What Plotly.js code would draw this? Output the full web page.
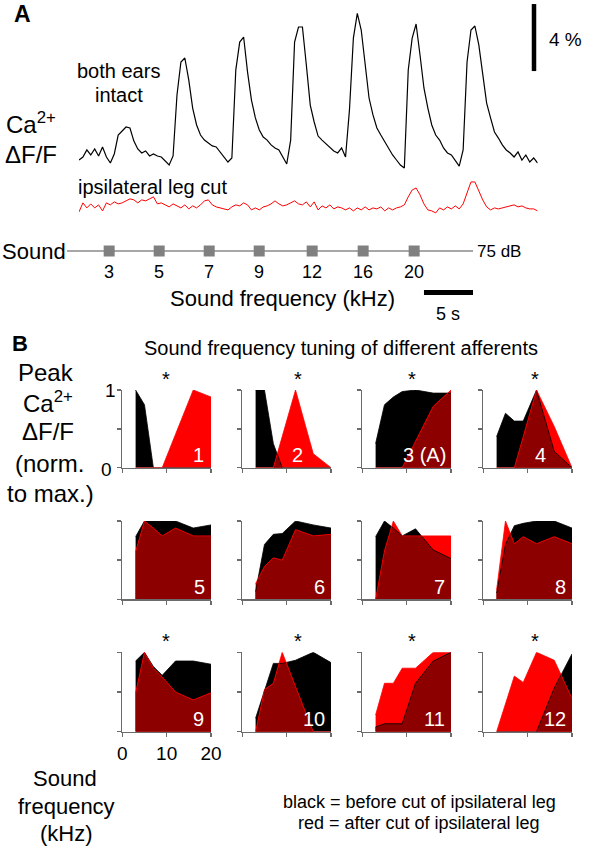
<!DOCTYPE html>
<html>
<head>
<meta charset="utf-8">
<script src="https://cdn.plot.ly/plotly-3.0.1.min.js"></script>
<style>html,body{margin:0;padding:0;background:#fff;}#chart{width:591px;height:853px;}</style>
</head>
<body>
<div id="chart"></div>
<script>
// ---------------- Panel A data ----------------
const sampleInterval = 0.4; // s between samples
const bothEarsIntact = [0.0,0.18,0.6,0.3,0.66,0.24,0.78,0.18,-0.18,0.36,
  1.49,1.73,1.97,1.91,1.13,0.66,0.42,0.54,0.24,0.36,
  0.24,0.18,-0.06,-0.3,0.24,3.88,5.85,6.09,4.78,3.1,
  2.09,1.49,1.19,1.01,0.84,0.78,0.48,0.24,-0.12,0.12,
  5.37,7.04,7.34,5.25,3.58,2.51,1.79,1.37,1.19,0.9,
  0.72,0.6,0.18,-0.24,1.19,7.04,7.94,7.94,5.67,3.28,
  2.27,1.43,1.19,0.96,0.72,0.54,0.42,0.72,0.18,2.99,
  7.28,8.75,7.76,5.55,3.7,2.69,1.91,1.49,1.07,0.72,
  0.3,0.0,-0.3,-0.48,5.37,7.28,8.12,6.27,4.3,3.1,
  2.09,1.49,1.19,0.72,0.42,0.3,0.0,-0.36,0.6,5.85,
  7.76,8.0,6.87,5.07,3.4,2.51,1.67,1.31,0.9,0.6,
  0.42,0.18,0.48,0.0,0.3,-0.12,0.12,-0.18];
const ipsilateralLegCut = [-0.3,0.24,-0.06,0.18,-0.06,0.12,-0.24,0.24,0.12,0.3,
  0.18,0.24,0.36,0.48,0.42,0.24,0.42,0.36,0.48,0.6,
  0.18,0.24,0.12,0.0,0.18,0.06,-0.06,0.12,-0.12,0.06,
  -0.06,0.12,0.36,0.42,0.12,0.0,-0.06,-0.12,-0.18,0.0,
  0.12,0.06,0.24,0.12,-0.18,-0.06,-0.18,0.0,0.06,0.18,
  0.36,0.18,0.06,0.12,0.24,0.36,0.18,0.12,0.3,0.0,
  0.3,-0.18,0.06,-0.06,0.12,-0.12,0.0,-0.06,-0.18,-0.06,
  -0.24,-0.06,-0.18,0.0,-0.18,-0.06,-0.12,0.0,-0.24,-0.06,
  -0.18,-0.06,0.0,0.12,0.6,1.01,1.13,0.72,0.18,-0.18,
  -0.24,-0.36,-0.06,-0.18,0.0,-0.12,0.06,-0.12,0.18,0.9,
  1.49,1.49,0.9,0.42,0.0,-0.18,-0.06,-0.12,-0.06,0.0,
  0.06,0.12,0.0,0.06,-0.06,-0.12,-0.12,-0.24];
const stimulusTimes = [4.3, 9.4, 14.5, 19.6, 25.0, 30.2, 35.4]; // s
const stimulusFreqLabels = ['3','5','7','9','12','16','20'];

// ---------------- Panel B data ----------------
const freqs = [3,5,7,9,12,16,20]; // kHz
const before1 = [1.0,0.81,0,0,0,0,0];        const after1 = [0,0,0,0,0.43,1.0,0.91];
const before2 = [1.0,1.0,0.31,0,0,0,0];      const after2 = [0,0,0,0.4,1.0,0.18,0];
const before3 = [0.31,0.81,0.91,0.98,1.0,0.96,0.96]; const after3 = [0,0,0,0,0.34,0.79,1.0];
const before4 = [0.4,0.7,0.6,0.6,1.0,0.21,0];  const after4 = [0,0,0,0.4,1.0,0.53,0];
const before5 = [0.8,1.0,1.0,1.0,1.0,0.91,0.95]; const after5 = [0.61,1.0,0.91,0.81,0.91,0.81,0.81];
const before6 = [0.1,0.7,0.83,0.84,1.0,0.95,0.91]; const after6 = [0.2,0.42,0.53,0.5,0.89,0.81,0.83];
const before7 = [0.8,1.0,0.91,0.81,0.9,0.63,0.52]; const after7 = [0,0.62,1.0,0.81,0.81,0.81,0.81];
const before8 = [0.08,0.7,0.94,0.97,1.0,1.0,0.91]; const after8 = [0.12,1.0,0.71,0.8,0.71,0.8,0.71];
const before9 = [0.89,1.0,0.82,0.71,0.89,0.89,0.85]; const after9 = [0.49,1.0,0.8,0.69,0.5,0.4,0.49];
const before10 = [0.17,0.53,0.86,0.86,0.9,1.0,0.87]; const after10 = [0,0.53,0.61,1.0,0.57,0,0];
const before11 = [0.06,0.1,0.1,0.1,0.61,0.89,1.0]; const after11 = [0.21,0.61,0.61,0.8,0.8,1.0,1.0];
const before12 = [0,0,0,0,0,0.55,0.98];       const after12 = [0,0.35,0.7,0.62,1.0,0.9,0.42];
const beforeList = [before1,before2,before3,before4,before5,before6,before7,before8,before9,before10,before11,before12];
const afterList = [after1,after2,after3,after4,after5,after6,after7,after8,after9,after10,after11,after12];
const afferentLabels = ['1','2','3 (A)','4','5','6','7','8','9','10','11','12'];
const significant = [true,true,true,true,false,false,false,false,true,true,true,true];

// ---------------- layout helpers ----------------
const W = 591, H = 853;
const FONT = 'Liberation Sans, Arial, sans-serif';
const px = x => x / W;
const py = y => 1 - y / H;
const AX = '#6b6b6b';

const traces = [];
const layout = {
  width: W, height: H, margin: {l:0,r:0,t:0,b:0,pad:0},
  paper_bgcolor: '#fff', plot_bgcolor: 'rgba(0,0,0,0)',
  showlegend: false, font: {family: FONT, color: '#000'},
  annotations: [], shapes: []
};

function ann(text, x, y, size, o) {
  layout.annotations.push(Object.assign({
    text: text, x: px(x), y: py(y), xref: 'paper', yref: 'paper',
    showarrow: false, xanchor: 'center', yanchor: 'middle',
    font: {family: FONT, size: size, color: '#000'}
  }, o || {}));
}

// ---------------- Panel A ----------------
const tTimes = bothEarsIntact.map((_, i) => i * sampleInterval);
const redOffset = -2.8;
layout.xaxis13 = {domain:[px(79), px(537.6)], range:[0, 46.8], anchor:'y13', visible:false, fixedrange:true};
layout.yaxis13 = {domain:[py(230), py(0)], range:[-4.179, 9.552], anchor:'x13', visible:false, fixedrange:true};
traces.push({x: tTimes, y: bothEarsIntact, xaxis:'x13', yaxis:'y13', mode:'lines',
  line:{color:'#000', width:1.2}, hoverinfo:'skip'});
traces.push({x: tTimes, y: ipsilateralLegCut.map(v => v + redOffset), xaxis:'x13', yaxis:'y13', mode:'lines',
  line:{color:'#ff0000', width:1}, hoverinfo:'skip'});
// 4 % scale bar
layout.shapes.push({type:'line', xref:'paper', yref:'y13', x0:px(534), x1:px(534), y0:5.31, y1:9.31,
  line:{color:'#000', width:4.5}});

// sound timeline
layout.xaxis14 = {domain:[px(67), px(473)], range:[0, 41.4], anchor:'y14', visible:false, fixedrange:true};
layout.yaxis14 = {domain:[py(261), py(241)], range:[-1, 1], anchor:'x14', visible:false, fixedrange:true};
traces.push({x:[0, 41.4], y:[0,0], xaxis:'x14', yaxis:'y14', mode:'lines', line:{color:'#8a8a8a', width:1.5}, hoverinfo:'skip'});
traces.push({x: stimulusTimes, y: stimulusTimes.map(() => 0), xaxis:'x14', yaxis:'y14', mode:'markers',
  marker:{symbol:'square', size:11, color:'#808080'}, hoverinfo:'skip'});
stimulusTimes.forEach((t, i) => {
  layout.annotations.push({text: stimulusFreqLabels[i], x: t, y: py(272), xref:'x14', yref:'paper',
    showarrow:false, xanchor:'center', yanchor:'middle', font:{family:FONT, size:18, color:'#000'}});
});
// 5 s bar
layout.shapes.push({type:'line', xref:'x14', yref:'paper', x0:36.4, x1:41.4, y0:py(292.5), y1:py(292.5),
  line:{color:'#000', width:5}});

ann('<b>A</b>', 22, 14, 23);
ann('both ears', 118, 71, 20);
ann('intact', 119, 95, 20);
ann('Ca<sup>2+</sup>', 31, 123, 24);
ann('ΔF/F', 31, 154, 24);
ann('ipsilateral leg cut', 76, 187, 20, {xanchor:'left'});
ann('4 %', 547, 39, 19, {xanchor:'left'});
ann('Sound', 0, 251, 22, {xanchor:'left'});
ann('75 dB', 475, 251, 17, {xanchor:'left'});
ann('Sound frequency (kHz)', 282, 299, 22);
ann('5 s', 448, 314, 18);

// ---------------- Panel B ----------------
const colX = [122.3, 242.3, 362.3, 483.3];
const colW = 88.7;
const rowTop = [390, 521, 652.3];
const rowBot = [467.7, 599.3, 731.7];
const starPx = [166, 297.7, 412, 535];
// label placement (x in kHz, anchor) for the afferent numbers
const labelX = [18.8, 12.5, 19.3, 13, 19, 19, 19, 19, 18.8, 19.1, 19.1, 19.1];
const labelAnchor = ['right','center','right','center','right','right','right','right','right','right','right','right'];

function minCurve(xs, a, b) {
  const mx = [], my = [];
  for (let i = 0; i < xs.length; i++) {
    if (i > 0) {
      const d0 = a[i-1] - b[i-1], d1 = a[i] - b[i];
      if (d0 * d1 < 0) {
        const f = d0 / (d0 - d1);
        mx.push(xs[i-1] + f * (xs[i] - xs[i-1]));
        my.push(a[i-1] + f * (a[i] - a[i-1]));
      }
    }
    mx.push(xs[i]); my.push(Math.min(a[i], b[i]));
  }
  return {mx, my};
}

for (let k = 1; k <= 12; k++) {
  const col = (k - 1) % 4, row = Math.floor((k - 1) / 4);
  const xa = 'x' + k, ya = 'y' + k;
  const xname = k === 1 ? 'xaxis' : 'xaxis' + k;
  const yname = k === 1 ? 'yaxis' : 'yaxis' + k;
  layout[xname] = {domain:[px(colX[col]), px(colX[col] + colW)], range:[0,20], anchor: ya,
    showline:true, linecolor:AX, linewidth:1.5, ticks:'outside', ticklen:4, tickwidth:1.5, tickcolor:AX,
    tickvals:[0,10,20], showticklabels: k === 9, tickfont:{family:FONT, size:19, color:'#000'},
    showgrid:false, zeroline:false, fixedrange:true, layer:'above traces'};
  layout[yname] = {domain:[py(rowBot[row]), py(rowTop[row])], range:[0,1], anchor: xa,
    showline:true, linecolor:AX, linewidth:1.5, ticks:'outside', ticklen:4, tickwidth:1.5, tickcolor:AX,
    tickvals:[0,0.5,1], showticklabels:false,
    showgrid:false, zeroline:false, fixedrange:true, layer:'above traces'};
  const b = beforeList[k-1], a = afterList[k-1];
  const m = minCurve(freqs, b, a);
  traces.push({x:freqs, y:b, xaxis:xa, yaxis:ya, mode:'lines', fill:'tozeroy', fillcolor:'#000',
    line:{width:0, color:'#000'}, hoverinfo:'skip'});
  traces.push({x:freqs, y:a, xaxis:xa, yaxis:ya, mode:'lines', fill:'tozeroy', fillcolor:'#ff0000',
    line:{width:0, color:'#ff0000'}, hoverinfo:'skip'});
  traces.push({x:m.mx, y:m.my, xaxis:xa, yaxis:ya, mode:'lines', fill:'tozeroy', fillcolor:'#8c0000',
    line:{width:0, color:'#8c0000'}, hoverinfo:'skip'});
  traces.push({x:freqs, y:b, xaxis:xa, yaxis:ya, mode:'lines', line:{width:0.8, color:'#000'}, hoverinfo:'skip'});
  traces.push({x:freqs, y:a, xaxis:xa, yaxis:ya, mode:'lines', line:{width:0.8, color:'#ff0000'}, hoverinfo:'skip'});
  layout.annotations.push({text: afferentLabels[k-1], x: labelX[k-1], y: 0.16, xref: xa, yref: ya,
    showarrow:false, xanchor: labelAnchor[k-1], yanchor:'middle', font:{family:FONT, size:20, color:'#fff'}});
  if (significant[k-1]) {
    ann('*', starPx[col], rowTop[row] - 11, 20);
  }
}
// y tick labels of the first panel
layout.annotations.push({text:'1', x:0, y:1, xref:'x', yref:'y', xshift:-12, showarrow:false,
  xanchor:'center', yanchor:'middle', font:{family:FONT, size:19, color:'#000'}});
layout.annotations.push({text:'0', x:0, y:0, xref:'x', yref:'y', xshift:-16, yshift:-2, showarrow:false,
  xanchor:'center', yanchor:'middle', font:{family:FONT, size:19, color:'#000'}});

ann('<b>B</b>', 20, 343, 22);
ann('Sound frequency tuning of different afferents', 341, 348, 20);
ann('Peak', 46, 372, 24);
ann('Ca<sup>2+</sup>', 48, 402, 24);
ann('ΔF/F', 48, 432, 24);
ann('(norm.', 49, 463, 24);
ann('to max.)', 50, 493, 24);
ann('Sound', 65, 778, 22);
ann('frequency', 66, 806, 22);
ann('(kHz)', 66, 833, 22);
ann('black = before cut of ipsilateral leg', 419, 802, 18);
ann('red = after cut of ipsilateral leg', 419, 823, 18);

Plotly.newPlot('chart', traces, layout, {staticPlot:true, displayModeBar:false});
</script>
</body>
</html>
